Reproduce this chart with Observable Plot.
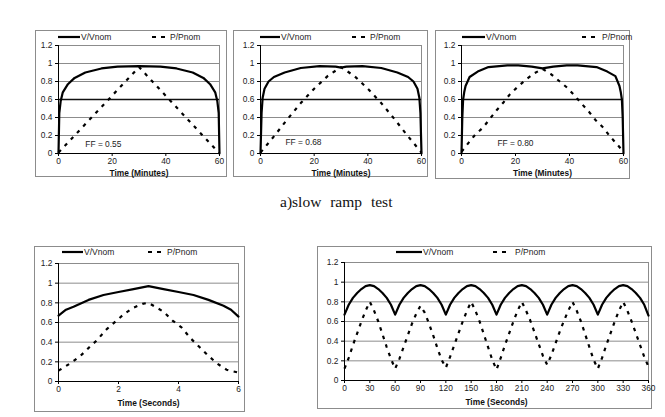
<!DOCTYPE html>
<html><head><meta charset="utf-8">
<script src="https://cdn.jsdelivr.net/npm/d3@7"></script>
<script src="https://cdn.jsdelivr.net/npm/@observablehq/plot@0.6"></script>
<style>
body{margin:0;background:#fff;}
#root{position:relative;width:665px;height:417px;overflow:hidden;background:#fff;font-family:"Liberation Sans",Arial,sans-serif;}
.frame{position:absolute;border:1px solid #8c8c8c;box-sizing:border-box;}
.abs{position:absolute;}
.leg{position:absolute;font-size:8.5px;color:#222;line-height:10px;white-space:nowrap;}
.cap{position:absolute;font-family:"Liberation Serif","DejaVu Serif",serif;font-size:15.5px;color:#111;word-spacing:5px;white-space:nowrap;}
</style></head>
<body><div id="root"></div>
<script>
// ---------- data ----------
const seriesNames = ["V/Vnom", "P/Pnom"];
const yTicks = [0, 0.2, 0.4, 0.6, 0.8, 1, 1.2];
const minuteTicks = [0, 20, 40, 60];
const secTicksShort = [0, 2, 4, 6];
const secTicksLong = [0, 30, 60, 90, 120, 150, 180, 210, 240, 270, 300, 330, 360];
const ffLabels = ["FF = 0.55", "FF = 0.68", "FF = 0.80"];
const captionA = "a)slow  ramp  test";

// slow ramp, FF = 0.55
const t1V = [0, 0.3, 0.8, 1.6, 3.5, 6, 10, 16, 22, 30, 38, 44, 50, 54, 56.5, 58.4, 59.2, 59.7, 60];
const v1V = [0, 0.45, 0.58, 0.68, 0.77, 0.84, 0.90, 0.945, 0.965, 0.97, 0.965, 0.945, 0.90, 0.84, 0.77, 0.68, 0.58, 0.45, 0];
const t1P = [0, 30, 60];
const v1P = [0.01, 0.96, 0.0];

// slow ramp, FF = 0.68
const t2V = [0, 0.4, 0.8, 1.5, 3, 5, 9, 15, 22, 28, 30, 32, 38, 45, 51, 55, 57, 58.5, 59.2, 59.6, 60];
const v2V = [0, 0.45, 0.62, 0.72, 0.80, 0.85, 0.90, 0.95, 0.97, 0.965, 0.955, 0.965, 0.97, 0.95, 0.90, 0.85, 0.80, 0.72, 0.62, 0.45, 0];
const t2P = [0, 5, 10, 15, 20, 25, 30, 35, 40, 45, 50, 55, 60];
const v2P = [0.01, 0.19, 0.38, 0.56, 0.72, 0.86, 0.96, 0.86, 0.72, 0.56, 0.38, 0.19, 0.01];

// slow ramp, FF = 0.80
const t3V = [0, 0.3, 0.6, 1, 1.5, 3, 6, 10, 17, 21, 26, 30, 34, 39, 43, 50, 54, 57, 58.5, 59, 59.4, 59.7, 60];
const v3V = [0, 0.4, 0.6, 0.68, 0.75, 0.85, 0.91, 0.96, 0.98, 0.98, 0.965, 0.945, 0.965, 0.98, 0.98, 0.96, 0.91, 0.86, 0.75, 0.68, 0.6, 0.4, 0];
const t3P = [0, 2.3, 5.1, 8, 10.5, 13, 15.6, 18, 20.8, 23.8, 26.9, 30, 33, 36.4, 39.2, 42, 44.6, 47.3, 49.7, 52.6, 55, 57.7, 60];
const v3P = [0.02, 0.107, 0.21, 0.29, 0.385, 0.48, 0.57, 0.66, 0.74, 0.82, 0.89, 0.94, 0.885, 0.80, 0.73, 0.64, 0.55, 0.46, 0.37, 0.285, 0.19, 0.10, 0.02];

// fast ramp, 6 seconds
const t4V = [0, 0.25, 0.5, 1, 1.5, 2, 2.5, 3, 3.5, 4, 4.5, 5, 5.5, 5.75, 6];
const v4V = [0.67, 0.73, 0.76, 0.83, 0.88, 0.91, 0.94, 0.97, 0.94, 0.91, 0.88, 0.83, 0.77, 0.73, 0.66];
const t4P = [0, 0.42, 0.73, 1.0, 1.28, 1.6, 1.9, 2.2, 2.5, 2.8, 3, 3.5, 3.8, 4.1, 4.4, 4.7, 5.0, 5.3, 5.6, 6];
const v4P = [0.11, 0.19, 0.26, 0.34, 0.42, 0.53, 0.61, 0.69, 0.75, 0.79, 0.80, 0.71, 0.62, 0.55, 0.44, 0.35, 0.26, 0.18, 0.12, 0.09];

// repeated ramps, 360 seconds (5 s steps)
const t5 = [0,5,10,15,20,25,30,35,40,45,50,55,60,65,70,75,80,85,90,95,100,105,110,115,120,125,130,135,140,145,150,155,160,165,170,175,180,185,190,195,200,205,210,215,220,225,230,235,240,245,250,255,260,265,270,275,280,285,290,295,300,305,310,315,320,325,330,335,340,345,350,355,360];
const v5V = [0.67,0.77,0.84,0.89,0.93,0.96,0.97,0.96,0.93,0.89,0.84,0.77,
             0.67,0.77,0.84,0.89,0.93,0.96,0.97,0.96,0.93,0.89,0.84,0.77,
             0.67,0.77,0.84,0.89,0.93,0.96,0.97,0.96,0.93,0.89,0.84,0.77,
             0.67,0.77,0.84,0.89,0.93,0.96,0.97,0.96,0.93,0.89,0.84,0.77,
             0.67,0.77,0.84,0.89,0.93,0.96,0.97,0.96,0.93,0.89,0.84,0.77,
             0.67,0.77,0.84,0.89,0.93,0.96,0.97,0.96,0.93,0.89,0.84,0.77,0.66];
const v5P = [0.12,0.23,0.36,0.48,0.60,0.71,0.80,0.71,0.60,0.47,0.34,0.22,
             0.12,0.22,0.34,0.46,0.58,0.68,0.76,0.69,0.58,0.46,0.33,0.21,
             0.13,0.24,0.36,0.48,0.60,0.71,0.80,0.71,0.60,0.47,0.34,0.21,
             0.11,0.23,0.36,0.48,0.60,0.71,0.80,0.71,0.61,0.49,0.37,0.25,
             0.16,0.26,0.38,0.50,0.61,0.71,0.80,0.71,0.60,0.47,0.34,0.21,
             0.12,0.23,0.36,0.48,0.60,0.71,0.80,0.71,0.60,0.48,0.36,0.24,0.14];

// ---------- drawing ----------
const root = document.getElementById("root");
const zip = (ts, vs) => ts.map((t, i) => ({t, v: vs[i]}));

function legend(lx, ly, dashX, txtV, txtP) {
  const s = document.createElementNS("http://www.w3.org/2000/svg", "svg");
  s.setAttribute("width", 665); s.setAttribute("height", 12);
  s.setAttribute("class", "abs");
  s.style.left = "0px"; s.style.top = (ly - 6) + "px";
  s.innerHTML = `<line x1="${lx[0]}" x2="${lx[1]}" y1="6" y2="6" stroke="#000" stroke-width="2.2"/>` +
    `<line x1="${dashX[0]}" x2="${dashX[1]}" y1="6" y2="6" stroke="#000" stroke-width="2.2" stroke-dasharray="4,5"/>`;
  root.appendChild(s);
  const a = document.createElement("div"); a.className = "leg"; a.textContent = seriesNames[0];
  a.style.left = txtV + "px"; a.style.top = (ly - 5) + "px"; root.appendChild(a);
  const b = document.createElement("div"); b.className = "leg"; b.textContent = seriesNames[1];
  b.style.left = txtP + "px"; b.style.top = (ly - 5) + "px"; root.appendChild(b);
}

function panel(o) {
  const [fx, fy, fw, fh] = o.frame;
  const [px0, py0, px1, py1] = o.plot;
  const fr = document.createElement("div"); fr.className = "frame";
  Object.assign(fr.style, {left: fx + "px", top: fy + "px", width: fw + "px", height: fh + "px"});
  root.appendChild(fr);
  const marks = [
    Plot.frame({stroke: "#8c8c8c"}),
    Plot.ruleY(yTicks.filter(d => d > 0), {stroke: d => (o.dark06 && d === 0.6) ? "#111" : "#8c8c8c", strokeWidth: d => (o.dark06 && d === 0.6) ? 1.3 : 1}),
    Plot.ruleY([0], {stroke: "#000"}),
    Plot.ruleX([o.xDomain[0]], {stroke: "#000"}),
    Plot.axisY(yTicks, {tickSize: 3, tickPadding: 3, tickFormat: d => String(d), label: null, stroke: "#000"}),
    Plot.axisX(o.xTicks, {tickSize: 3, tickPadding: 2, tickFormat: d => String(d), label: null, stroke: "#000"}),
    Plot.line(o.P, {x: "t", y: "v", stroke: "#000", strokeWidth: 2.2, strokeDasharray: "3.5,5.5", strokeLinecap: "butt"}),
    Plot.line(o.V, {x: "t", y: "v", stroke: "#000", strokeWidth: 2.2}),
    Plot.text([o.title], {frameAnchor: "bottom", dy: o.titleDy, lineAnchor: "middle", fontWeight: "bold", fontSize: 8.4, fill: "#111"})
  ];
  if (o.ff) marks.push(Plot.text([o.ff], {x: () => o.ffPos[0], y: () => o.ffPos[1], text: d => d, textAnchor: "start", fontSize: 8.4, fill: "#222"}));
  const chart = Plot.plot({
    width: fw, height: fh,
    marginLeft: px0 - fx, marginRight: fx + fw - px1,
    marginTop: py0 - fy, marginBottom: fy + fh - py1,
    x: {domain: o.xDomain},
    y: {domain: [0, 1.2]},
    style: {fontFamily: "Liberation Sans, Arial, sans-serif", fontSize: "8.4px", color: "#222", background: "transparent", overflow: "visible"},
    marks
  });
  chart.setAttribute("class", "abs");
  chart.style.left = fx + "px"; chart.style.top = fy + "px";
  root.appendChild(chart);
}

panel({frame: [35, 30, 192, 147], plot: [58, 45, 219, 153], xDomain: [0, 60], xTicks: minuteTicks,
  V: zip(t1V, v1V), P: zip(t1P, v1P), title: "Time (Minutes)", titleDy: 19.5, ff: ffLabels[0], ffPos: [10, 0.1], dark06: true});
panel({frame: [233, 30, 195, 147], plot: [260, 45, 421, 153], xDomain: [0, 60], xTicks: minuteTicks,
  V: zip(t2V, v2V), P: zip(t2P, v2P), title: "Time (Minutes)", titleDy: 19.5, ff: ffLabels[1], ffPos: [9.3, 0.12], dark06: true});
panel({frame: [435, 30, 195, 149], plot: [461, 45, 623, 153], xDomain: [0, 60], xTicks: minuteTicks,
  V: zip(t3V, v3V), P: zip(t3P, v3P), title: "Time (Minutes)", titleDy: 19.5, ff: ffLabels[2], ffPos: [13.3, 0.11], dark06: true});
panel({frame: [34, 246, 211, 166], plot: [58, 263, 238, 381], xDomain: [0, 6], xTicks: secTicksShort,
  V: zip(t4V, v4V), P: zip(t4P, v4P), title: "Time (Seconds)", titleDy: 22});
panel({frame: [317, 246, 335, 163], plot: [344, 262, 648, 380], xDomain: [0, 360], xTicks: secTicksLong,
  V: zip(t5, v5V), P: zip(t5, v5P), title: "Time (Seconds)", titleDy: 21.5});

legend([58, 80], 37, [152, 167], 81, 170);
legend([260, 280], 37, [352, 366], 281, 370);
legend([462, 485], 37, [582, 597], 486, 602);
legend([62, 83], 252, [148, 162], 84, 167);
legend([396, 422], 252, [493, 510], 423, 515);

const cap = document.createElement("div"); cap.className = "cap"; cap.textContent = captionA;
cap.style.left = "280px"; cap.style.top = "193px";
root.appendChild(cap);
</script></body></html>
